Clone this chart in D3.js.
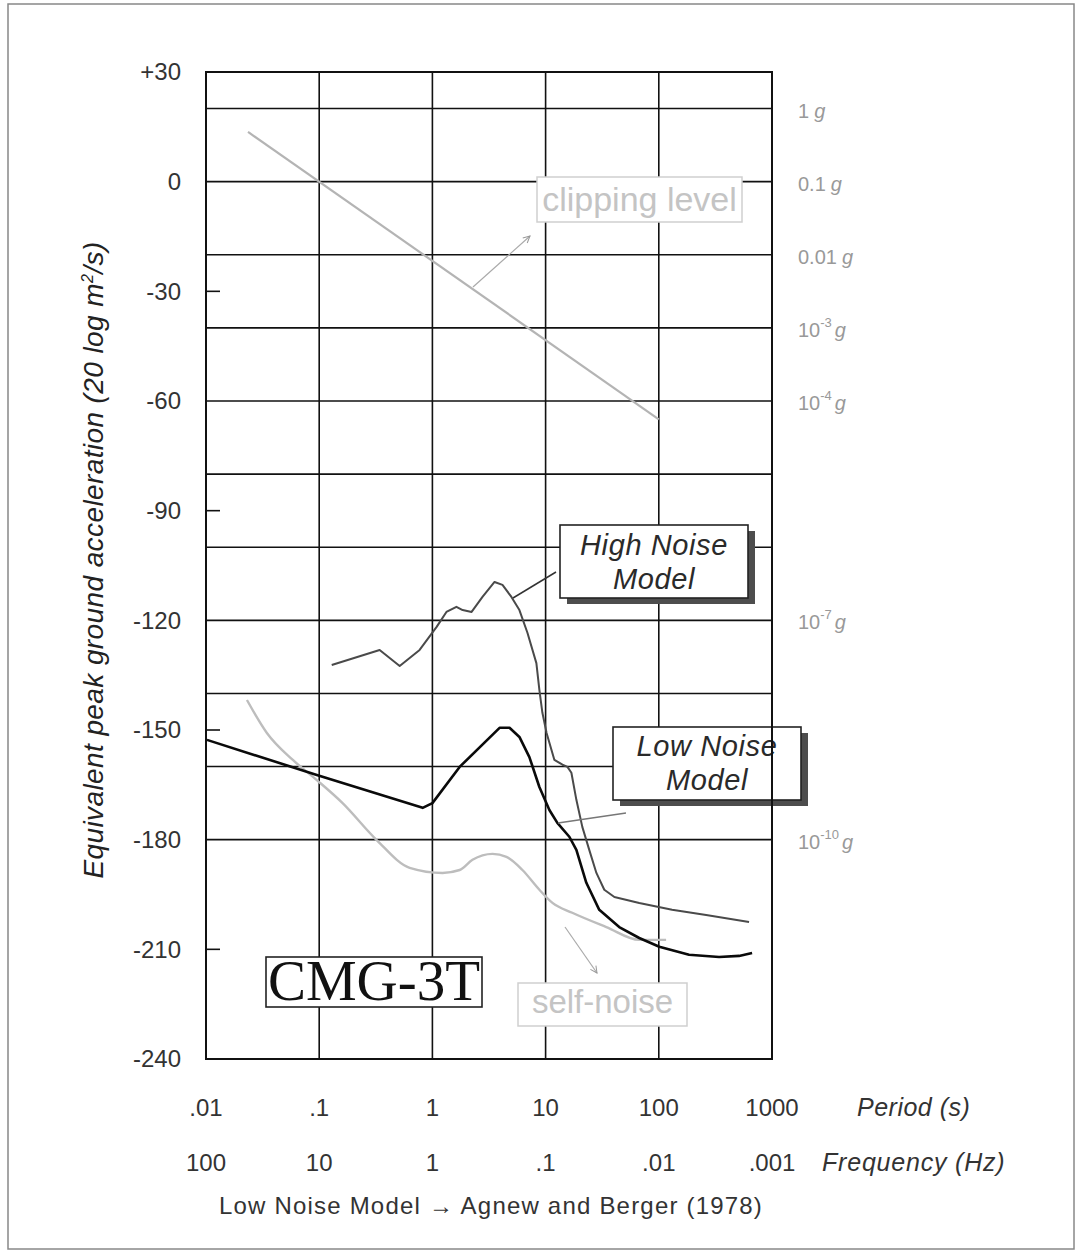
<!DOCTYPE html>
<html>
<head>
<meta charset="utf-8">
<title>CMG-3T noise levels</title>
<script src="https://cdn.jsdelivr.net/npm/d3@7"></script>
<style>
body { margin: 0; background: #fff; }
svg text { font-family: "Liberation Sans", Arial, sans-serif; }
</style>
</head>
<body>
<svg id="chart" width="1085" height="1254"></svg>
<script>
// levels in dB (20 log m^2/s), periods in seconds
var dbTicks = [30, 0, -30, -60, -90, -120, -150, -180, -210, -240];
var dbGrid = [20, 0, -20, -40, -60, -80, -100, -120, -140, -160, -180];
var dbMinor = [-30, -90, -150, -210];
var periodTicks = [0.01, 0.1, 1, 10, 100, 1000];
var periodLabels = [".01", ".1", "1", "10", "100", "1000"];
var freqLabels = ["100", "10", "1", ".1", ".01", ".001"];
var gLevels = [20, 0, -20, -40, -60, -120, -180];
var gBase = ["1", "0.1", "0.01", "10", "10", "10", "10"];
var gExp = ["", "", "", "-3", "-4", "-7", "-10"];

var hnmPeriod = [0.129, 0.342, 0.514, 0.771, 1.09, 1.33, 1.63, 1.85, 2.22, 2.77, 3.54, 4.16, 4.99, 5.87, 6.91, 8.29, 8.81, 9.37, 10.2, 11.96, 14.1, 15.6, 16.9, 18.7, 21.1, 24.3, 28.1, 33.0, 40.5, 67.2, 131, 262, 627];
var hnmDb = [-132.2, -128.1, -132.5, -128.1, -121.8, -117.7, -116.3, -117.2, -117.7, -113.6, -109.5, -110.3, -113.6, -117.2, -123.4, -131.7, -139.0, -145.3, -150.8, -158.2, -159.5, -160.1, -161.7, -169.1, -176.5, -182.8, -189.1, -193.7, -195.7, -197.3, -199.2, -200.6, -202.5];

var lnmPeriod = [0.0102, 0.0953, 0.82, 1.0, 1.74, 3.92, 4.80, 5.87, 7.19, 8.81, 10.8, 12.7, 16.2, 18.7, 22.9, 29.8, 44.7, 67.2, 101, 185, 341, 512, 667];
var lnmDb = [-152.7, -162.3, -171.3, -170, -160.1, -149.4, -149.4, -151.9, -157.4, -165.6, -171.9, -175.4, -179.2, -182.8, -191.8, -199.2, -203.9, -206.9, -209.3, -211.5, -212.1, -211.8, -211.0];

var selfPeriod = [0.023, 0.0345, 0.0585, 0.0953, 0.161, 0.322, 0.63, 1.23, 1.74, 2.26, 3.40, 4.51, 6.24, 8.81, 11.5, 17.2, 34.4, 67.2, 116];
var selfDb = [-141.8, -150.8, -158.2, -163.7, -170.0, -180.1, -187.7, -189.1, -188.3, -185.5, -183.9, -184.7, -188.3, -193.7, -197.3, -200.0, -203.9, -207.4, -207.4];

var clipPeriod = [0.0235, 100];
var clipDb = [13.6, -65];

var svg = d3.select("#chart");

var x = d3.scaleLog().domain([0.01, 1000]).range([206, 772]);
var y = d3.scaleLinear().domain([-240, 30]).range([1059, 72]);

// outer page frame
svg.append("rect")
    .attr("x", 8).attr("y", 4).attr("width", 1066).attr("height", 1245)
    .attr("fill", "none").attr("stroke", "#888").attr("stroke-width", 1.5);

var defs = svg.append("defs");
defs.append("marker")
    .attr("id", "arrow").attr("viewBox", "0 0 10 10")
    .attr("refX", 9).attr("refY", 5)
    .attr("markerWidth", 7).attr("markerHeight", 7)
    .attr("orient", "auto")
  .append("path")
    .attr("d", "M1,1 L9,5 L1,9")
    .attr("fill", "none").attr("stroke", "#999").attr("stroke-width", 1.2);

// grid
var grid = svg.append("g").attr("stroke", "#111").attr("stroke-width", 1.6);
grid.selectAll("line.h").data(dbGrid).enter().append("line")
    .attr("x1", x(0.01)).attr("x2", x(1000))
    .attr("y1", function(d) { return y(d); })
    .attr("y2", function(d) { return y(d); });
grid.selectAll("line.v").data(periodTicks.slice(1, 5)).enter().append("line")
    .attr("y1", y(30)).attr("y2", y(-240))
    .attr("x1", function(d) { return x(d); })
    .attr("x2", function(d) { return x(d); });
grid.selectAll("line.t").data(dbMinor).enter().append("line")
    .attr("x1", x(0.01)).attr("x2", x(0.01) + 14)
    .attr("y1", function(d) { return y(d); })
    .attr("y2", function(d) { return y(d); });

// curves
var line = d3.line()
    .x(function(d) { return x(d[0]); })
    .y(function(d) { return y(d[1]); });
var smooth = d3.line()
    .x(function(d) { return x(d[0]); })
    .y(function(d) { return y(d[1]); })
    .curve(d3.curveMonotoneX);

function pairs(p, v) { return p.map(function(d, i) { return [d, v[i]]; }); }

svg.append("path").datum(pairs(clipPeriod, clipDb))
    .attr("d", line).attr("fill", "none")
    .attr("stroke", "#b4b4b4").attr("stroke-width", 2.2);

svg.append("path").datum(pairs(selfPeriod, selfDb))
    .attr("d", smooth).attr("fill", "none")
    .attr("stroke", "#bdbdbd").attr("stroke-width", 2.4);

svg.append("path").datum(pairs(hnmPeriod, hnmDb))
    .attr("d", line).attr("fill", "none")
    .attr("stroke", "#4a4a4a").attr("stroke-width", 2).attr("stroke-linejoin", "round");

svg.append("path").datum(pairs(lnmPeriod, lnmDb))
    .attr("d", line).attr("fill", "none")
    .attr("stroke", "#0a0a0a").attr("stroke-width", 2.6).attr("stroke-linejoin", "round");

// annotation pointers
svg.append("line")
    .attr("x1", 473).attr("y1", 287).attr("x2", 530).attr("y2", 236)
    .attr("stroke", "#aaa").attr("stroke-width", 1.2).attr("marker-end", "url(#arrow)");
svg.append("line")
    .attr("x1", 565).attr("y1", 927).attr("x2", 597).attr("y2", 973)
    .attr("stroke", "#aaa").attr("stroke-width", 1.2).attr("marker-end", "url(#arrow)");
svg.append("line")
    .attr("x1", 513).attr("y1", 598).attr("x2", 556).attr("y2", 572)
    .attr("stroke", "#333").attr("stroke-width", 1.5);
svg.append("line")
    .attr("x1", 558).attr("y1", 823).attr("x2", 626).attr("y2", 813)
    .attr("stroke", "#777").attr("stroke-width", 1.5);

// label boxes
function lightBox(bx, by, w, h, txt, size, ty) {
  svg.append("rect").attr("x", bx).attr("y", by).attr("width", w).attr("height", h)
      .attr("fill", "#fff").attr("stroke", "#cfcfcf").attr("stroke-width", 1.5);
  svg.append("text").attr("x", bx + w / 2).attr("y", ty)
      .attr("text-anchor", "middle").attr("font-size", size)
      .attr("fill", "#c4c4c4").text(txt);
}
lightBox(537, 177, 205, 45, "clipping level", 34, 211);
lightBox(518, 983, 169, 43, "self-noise", 33, 1013);

function modelBox(bx, by, l1, l2, l1y, l2y) {
  svg.append("rect").attr("x", bx + 7).attr("y", by + 6).attr("width", 188).attr("height", 73)
      .attr("fill", "#4d4d4d");
  svg.append("rect").attr("x", bx).attr("y", by).attr("width", 188).attr("height", 73)
      .attr("fill", "#fff").attr("stroke", "#222").attr("stroke-width", 1.6);
  svg.append("text").attr("x", bx + 94).attr("y", l1y)
      .attr("text-anchor", "middle").attr("font-size", 29).attr("letter-spacing", 0.6)
      .attr("font-style", "italic").attr("fill", "#2a2a2a").text(l1);
  svg.append("text").attr("x", bx + 94).attr("y", l2y)
      .attr("text-anchor", "middle").attr("font-size", 29).attr("letter-spacing", 0.6)
      .attr("font-style", "italic").attr("fill", "#2a2a2a").text(l2);
}
modelBox(560, 525, "High Noise", "Model", 555, 589);
modelBox(613, 727, "Low Noise", "Model", 756, 790);

// CMG-3T tag
svg.append("rect").attr("x", 266).attr("y", 957).attr("width", 216).attr("height", 50)
    .attr("fill", "#fff").attr("stroke", "#222").attr("stroke-width", 1.6);
svg.append("text").attr("x", 374).attr("y", 1000)
    .attr("text-anchor", "middle").attr("font-size", 57)
    .style("font-family", "'Liberation Serif', 'Times New Roman', serif")
    .attr("fill", "#111").text("CMG-3T");

// plot frame on top
svg.append("rect")
    .attr("x", x(0.01)).attr("y", y(30))
    .attr("width", x(1000) - x(0.01)).attr("height", y(-240) - y(30))
    .attr("fill", "none").attr("stroke", "#111").attr("stroke-width", 2);

// left axis labels
var yAxis = d3.axisLeft(y).tickValues(dbTicks).tickSize(0).tickPadding(0)
    .tickFormat(function(d) { return d > 0 ? "+" + d : String(d); });
svg.append("g").attr("transform", "translate(181,0)").call(yAxis)
    .call(function(g) { g.select(".domain").remove(); })
    .selectAll("text")
    .style("font-family", "'Liberation Sans', Arial, sans-serif")
    .attr("font-size", 24).attr("fill", "#333");

// right g labels
var gl = svg.append("g").attr("fill", "#999").attr("font-size", 20);
gLevels.forEach(function(v, i) {
  var t = gl.append("text").attr("x", 798).attr("y", y(v) + 9);
  t.append("tspan").text(gBase[i]);
  if (gExp[i]) {
    t.append("tspan").attr("dy", -10).attr("font-size", 13).text(gExp[i]);
    t.append("tspan").attr("dy", 10).attr("dx", 3).attr("font-style", "italic").text("g");
  } else {
    t.append("tspan").attr("dx", 5).attr("font-style", "italic").text("g");
  }
});

// bottom labels
svg.selectAll("text.per").data(periodTicks).enter().append("text")
    .attr("x", function(d) { return x(d); }).attr("y", 1116)
    .attr("text-anchor", "middle").attr("font-size", 24).attr("fill", "#333")
    .text(function(d, i) { return periodLabels[i]; });
svg.selectAll("text.frq").data(periodTicks).enter().append("text")
    .attr("x", function(d) { return x(d); }).attr("y", 1171)
    .attr("text-anchor", "middle").attr("font-size", 24).attr("fill", "#333")
    .text(function(d, i) { return freqLabels[i]; });
svg.append("text").attr("x", 857).attr("y", 1116)
    .attr("font-size", 25).attr("letter-spacing", 0.5)
    .attr("font-style", "italic").attr("fill", "#333").text("Period (s)");
svg.append("text").attr("x", 822).attr("y", 1171)
    .attr("font-size", 25).attr("letter-spacing", 0.8)
    .attr("font-style", "italic").attr("fill", "#333").text("Frequency (Hz)");
svg.append("text").attr("x", 491).attr("y", 1214)
    .attr("text-anchor", "middle").attr("font-size", 24).attr("letter-spacing", 1.2)
    .attr("fill", "#333")
    .text("Low Noise Model \u2192 Agnew and Berger (1978)");

// y title
var yt = svg.append("text")
    .attr("transform", "translate(103,560) rotate(-90)")
    .attr("text-anchor", "middle").attr("font-size", 28).attr("letter-spacing", 0.4)
    .attr("font-style", "italic").attr("fill", "#222");
yt.append("tspan").text("Equivalent peak ground acceleration (20 log m");
yt.append("tspan").attr("dy", -10).attr("font-size", 16).text("2");
yt.append("tspan").attr("dy", 10).text("/s)");
</script>
</body>
</html>
